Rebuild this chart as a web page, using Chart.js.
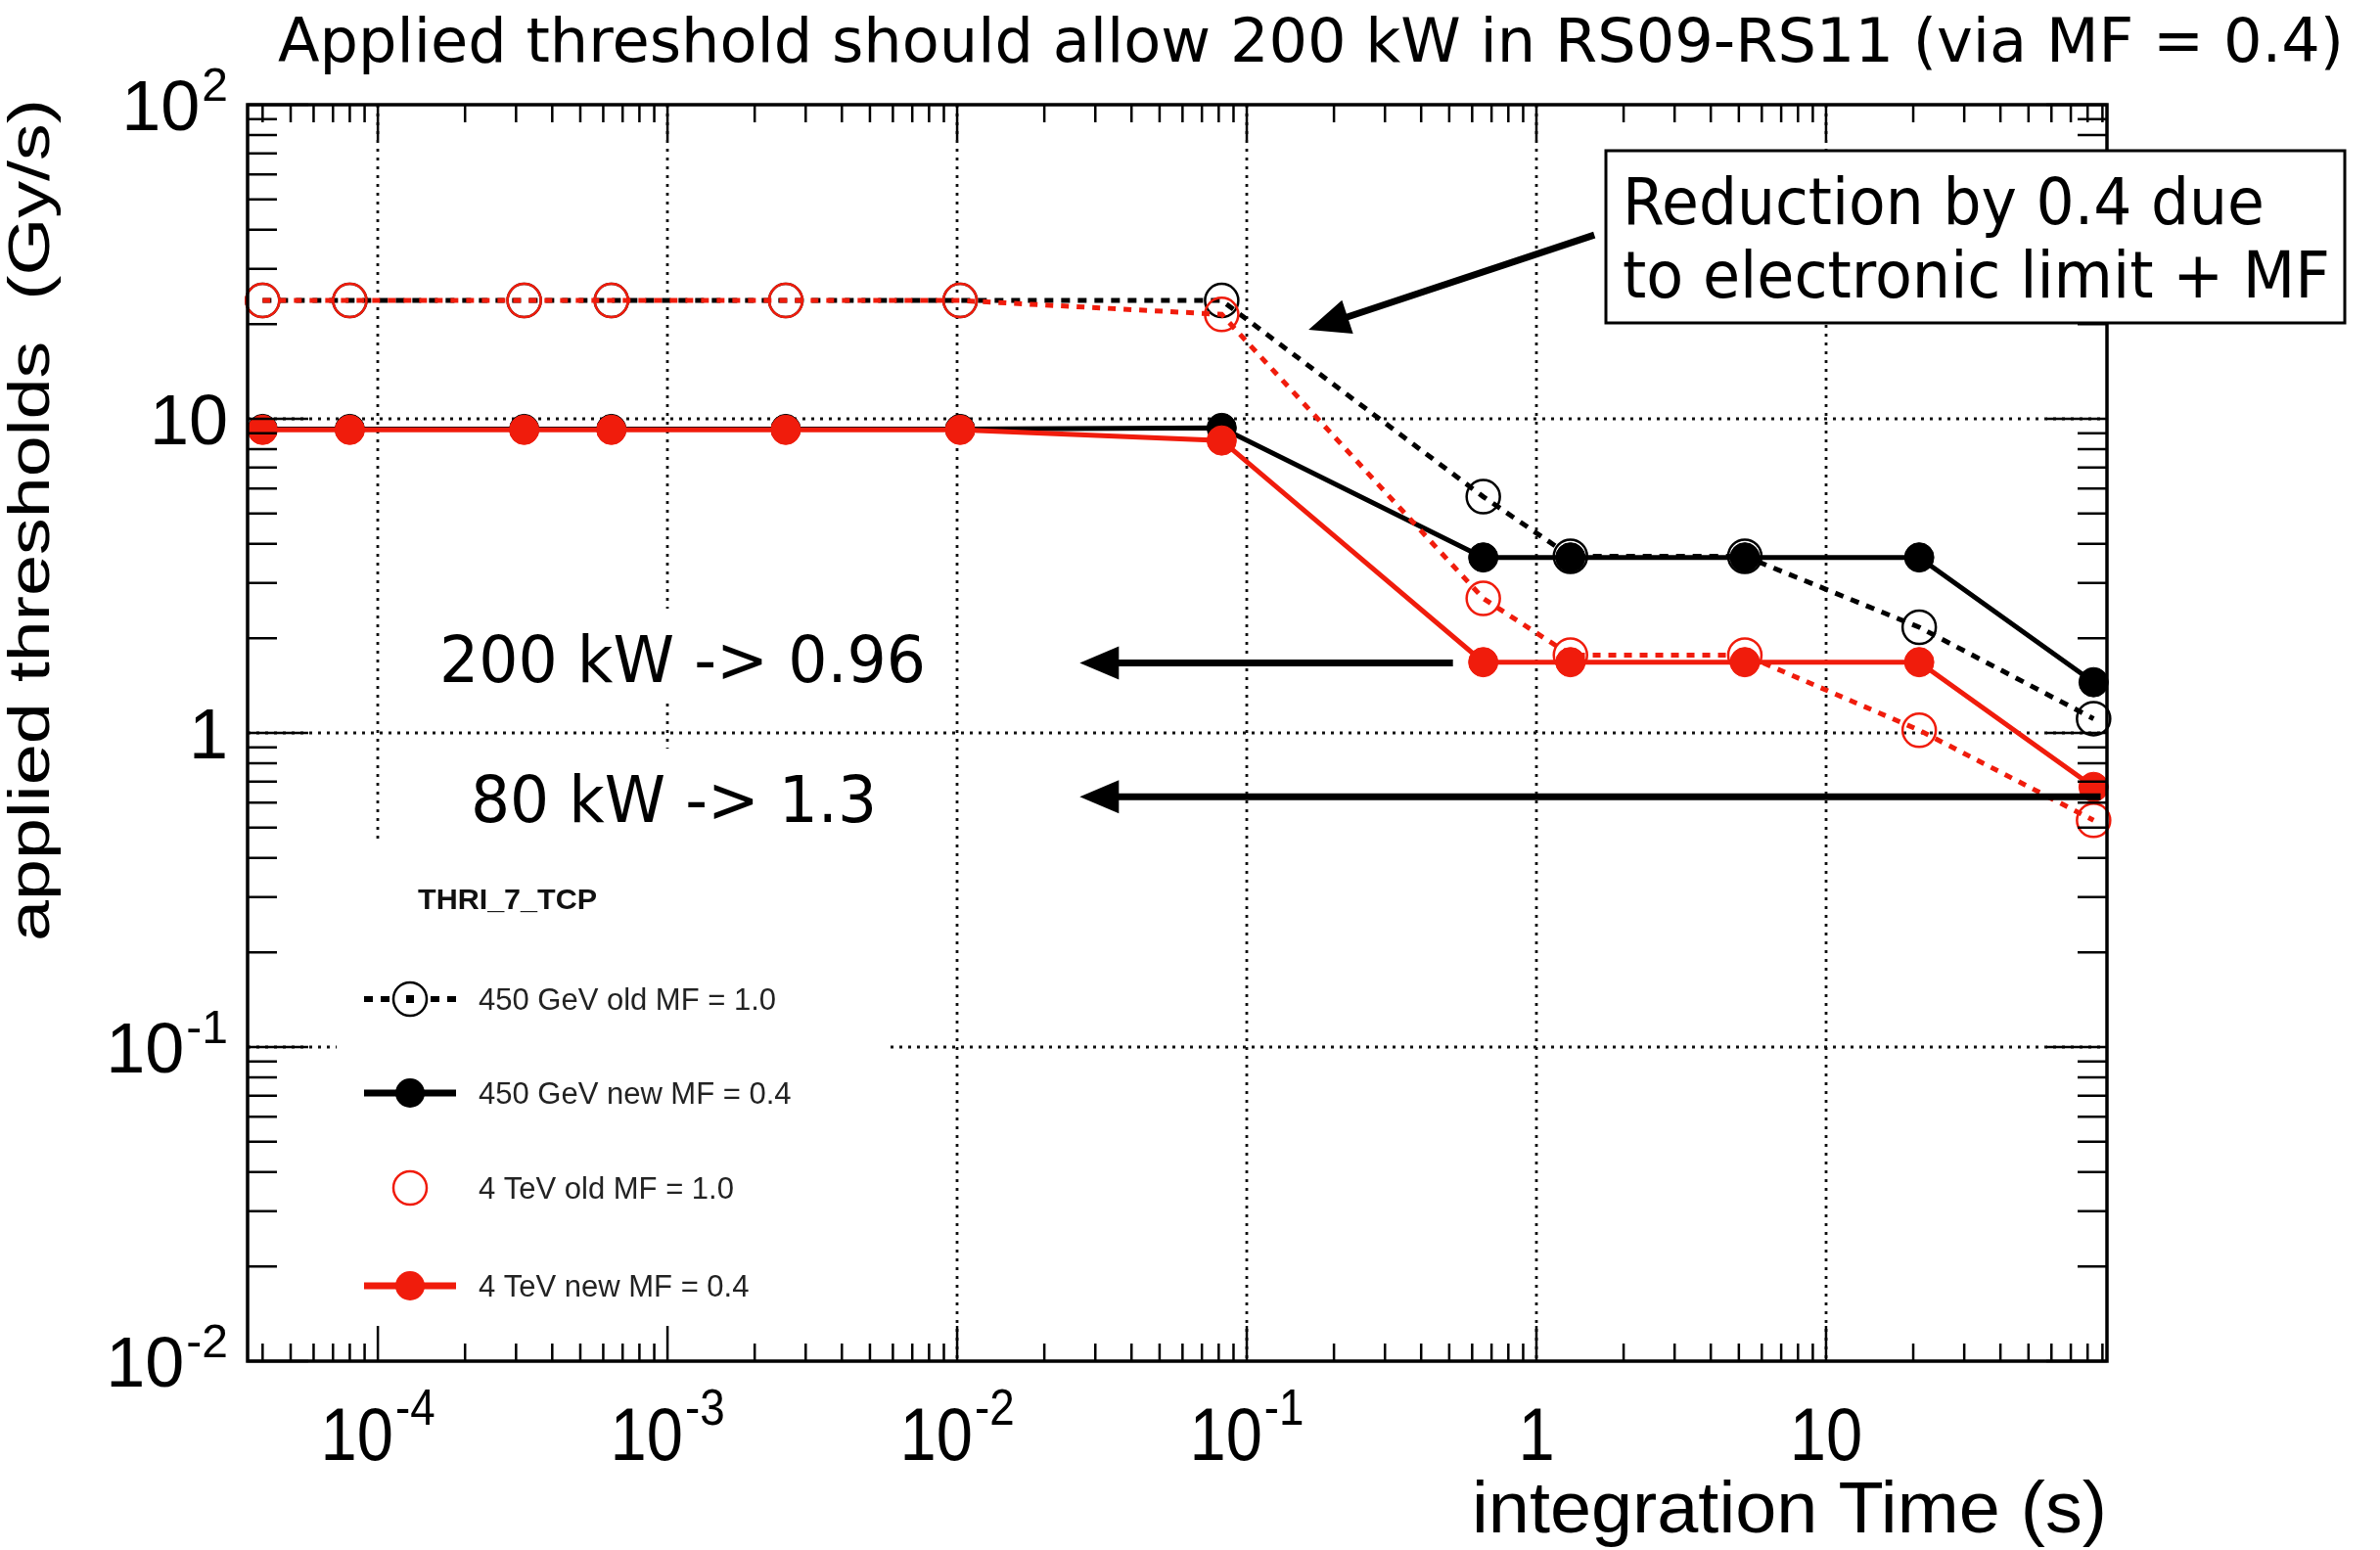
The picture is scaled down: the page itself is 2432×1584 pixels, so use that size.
<!DOCTYPE html>
<html><head><meta charset="utf-8">
<script src="https://cdn.jsdelivr.net/npm/chart.js@4.4.1/dist/chart.umd.min.js"></script>
<style>html,body{margin:0;padding:0;background:#fff;}canvas{display:block;}</style>
</head><body>
<canvas id="c" width="2432" height="1584"></canvas>
<script>
// ---------------- data ----------------
const integrationTimes = [4e-5, 8e-5, 3.2e-4, 6.4e-4, 2.56e-3, 1.024e-2, 8.192e-2, 0.65536, 1.31072, 5.24288, 20.97152, 83.88608];
const gev450Old = [23.8, 23.8, 23.8, 23.8, 23.8, 23.8, 23.8, 5.65, 3.65, 3.65, 2.17, 1.11];
const gev450New = [9.28, 9.28, 9.28, 9.28, 9.28, 9.28, 9.35, 3.62, 3.62, 3.62, 3.62, 1.45];
const tev4Old   = [23.8, 23.8, 23.8, 23.8, 23.8, 23.8, 21.5, 2.68, 1.77, 1.77, 1.02, 0.527];
const tev4New   = [9.22, 9.22, 9.22, 9.22, 9.22, 9.22, 8.53, 1.68, 1.68, 1.68, 1.68, 0.673];
const seriesLabels = ['450 GeV old MF = 1.0', '450 GeV new MF = 0.4', '4 TeV old MF = 1.0', '4 TeV new MF = 0.4'];
const legendTitle = 'THRI_7_TCP';
const xTickValues = [1e-4, 1e-3, 1e-2, 1e-1, 1, 10];
const xTickBases  = ['10', '10', '10', '10', '1', '10'];
const xTickExps   = ['-4', '-3', '-2', '-1', '', ''];
const yTickValues = [100, 10, 1, 0.1, 0.01];
const yTickBases  = ['10', '10', '1', '10', '10'];
const yTickExps   = ['2', '', '', '-1', '-2'];
const xRange = [3.55e-5, 93.3];
const yRange = [0.01, 100];
const titleText = 'Applied threshold should allow 200 kW in RS09-RS11 (via MF = 0.4)';
const xTitle = 'integration Time (s)';
const yTitle = 'applied thresholds  (Gy/s)';
const noteLines = ['Reduction by 0.4 due', 'to electronic limit + MF'];
const note200 = '200 kW -> 0.96';
const note80 = '80 kW -> 1.3';
// arrow anchors in data space [xFrom, yFrom, xTo, yTo]
const arrow200 = [0.515, 1.67, 0.0265, 1.67];
const arrow80 = [88.7, 0.626, 0.0265, 0.626];
const arrowNote = [1.585, 38.5, 0.1634, 19.2];

// ---------------- layout / style ----------------
const W = 2432, H = 1584;
const AREA = {left: 253, top: 107, right: 2153, bottom: 1391};
const RED = 'rgb(240,28,12)';
const BLACK = '#000';
const SANS = '"Liberation Sans", Arial, Helvetica, sans-serif';
const HUM = '"DejaVu Sans", Verdana, sans-serif';

function toPts(ys) { return integrationTimes.map((x, i) => ({x: x, y: ys[i]})); }

function fitText(ctx, text, x, y, width, font, color) {
  ctx.save();
  ctx.font = font;
  ctx.fillStyle = color || '#000';
  ctx.textAlign = 'left';
  ctx.textBaseline = 'alphabetic';
  const w = ctx.measureText(text).width;
  const s = width / w;
  ctx.translate(x, y);
  ctx.scale(s, 1);
  ctx.fillText(text, 0, 0);
  ctx.restore();
}

function drawArrow(ctx, x1, y1, x2, y2, lw, hl, hw) {
  const a = Math.atan2(y2 - y1, x2 - x1);
  const bx = x2 - hl * Math.cos(a), by = y2 - hl * Math.sin(a);
  ctx.save();
  ctx.strokeStyle = '#000'; ctx.fillStyle = '#000';
  ctx.lineWidth = lw; ctx.lineCap = 'butt';
  ctx.beginPath(); ctx.moveTo(x1, y1); ctx.lineTo(bx + 2 * Math.cos(a), by + 2 * Math.sin(a)); ctx.stroke();
  ctx.beginPath();
  ctx.moveTo(x2, y2);
  ctx.lineTo(bx + hw * Math.sin(a), by - hw * Math.cos(a));
  ctx.lineTo(bx - hw * Math.sin(a), by + hw * Math.cos(a));
  ctx.closePath(); ctx.fill();
  ctx.restore();
}

// power-of-ten label; align: 'right' or 'center'
function drawPow(ctx, base, exp, x, baseline, mainPx, supPx, raise, sx, align) {
  ctx.save();
  ctx.fillStyle = '#000';
  ctx.textAlign = 'left';
  ctx.font = mainPx + 'px ' + SANS;
  const wb = ctx.measureText(base).width * sx;
  ctx.font = supPx + 'px ' + SANS;
  const we = exp ? ctx.measureText(exp).width * sx + 2 : 0;
  const total = wb + we;
  let x0 = align === 'right' ? x - total : x - total / 2;
  ctx.font = mainPx + 'px ' + SANS;
  ctx.save(); ctx.translate(x0, baseline); ctx.scale(sx, 1); ctx.fillText(base, 0, 0); ctx.restore();
  if (exp) {
    ctx.font = supPx + 'px ' + SANS;
    ctx.save(); ctx.translate(x0 + wb + 2, baseline - raise); ctx.scale(sx, 1); ctx.fillText(exp, 0, 0); ctx.restore();
  }
  ctx.restore();
}

const rootStyle = {
  id: 'rootStyle',
  beforeDraw(chart) {
    const ctx = chart.ctx;
    ctx.save(); ctx.fillStyle = '#fff'; ctx.fillRect(0, 0, W, H); ctx.restore();
  },
  beforeDatasetsDraw(chart) {
    const ctx = chart.ctx, xs = chart.scales.x, ys = chart.scales.y, ca = chart.chartArea;
    ctx.save();
    ctx.strokeStyle = '#111';
    ctx.lineWidth = 2.8;
    ctx.setLineDash([3, 6]);
    xTickValues.forEach(v => {
      const px = Math.round(xs.getPixelForValue(v));
      ctx.beginPath(); ctx.moveTo(px, ca.top); ctx.lineTo(px, ca.bottom); ctx.stroke();
    });
    yTickValues.forEach(v => {
      if (v <= yRange[0] || v >= yRange[1]) return;
      const py = Math.round(ys.getPixelForValue(v));
      ctx.beginPath(); ctx.moveTo(ca.left, py); ctx.lineTo(ca.right, py); ctx.stroke();
    });
    ctx.setLineDash([]);
    // white panels behind the text blocks and legend
    ctx.fillStyle = '#fff';
    ctx.fillRect(430, 622, 530, 96);
    ctx.fillRect(430, 765, 530, 98);
    ctx.fillRect(344, 863, 561, ca.bottom - 866);
    ctx.restore();
  },
  afterDatasetsDraw(chart) {
    const ctx = chart.ctx, xs = chart.scales.x, ys = chart.scales.y, ca = chart.chartArea;
    ctx.save();
    // ticks
    ctx.strokeStyle = '#000';
    ctx.lineWidth = 2.5;
    for (let d = -6; d <= 2; d++) {
      for (let m = 1; m <= 9; m++) {
        const v = m * Math.pow(10, d);
        if (v >= xRange[0] && v <= xRange[1]) {
          const px = xs.getPixelForValue(v);
          const L = m === 1 ? 36 : 18;
          ctx.beginPath();
          ctx.moveTo(px, ca.bottom); ctx.lineTo(px, ca.bottom - L);
          ctx.moveTo(px, ca.top); ctx.lineTo(px, ca.top + L);
          ctx.stroke();
        }
        if (v >= yRange[0] && v <= yRange[1]) {
          const py = ys.getPixelForValue(v);
          const L = m === 1 ? 62 : 30;
          ctx.beginPath();
          ctx.moveTo(ca.left, py); ctx.lineTo(ca.left + L, py);
          ctx.moveTo(ca.right, py); ctx.lineTo(ca.right - L, py);
          ctx.stroke();
        }
      }
    }
    // frame
    ctx.lineWidth = 3.5;
    ctx.strokeRect(ca.left, ca.top, ca.right - ca.left, ca.bottom - ca.top);

    // tick labels
    xTickValues.forEach((v, i) => {
      const px = xs.getPixelForValue(v);
      drawPow(ctx, xTickBases[i], xTickExps[i], px, 1492, 76, 52, 36, 0.88, 'center');
    });
    yTickValues.forEach((v, i) => {
      const py = ys.getPixelForValue(v);
      drawPow(ctx, yTickBases[i], yTickExps[i], 233, py + 26, 72, 48, 30, 1.0, 'right');
    });

    // axis titles
    fitText(ctx, xTitle, 1504, 1566, 649, '74px ' + SANS);
    ctx.save();
    ctx.translate(50, 962);
    ctx.rotate(-Math.PI / 2);
    fitText(ctx, yTitle, 0, 0, 861, '60px ' + SANS);
    ctx.restore();

    // title
    fitText(ctx, titleText, 284, 63, 2111, '62px ' + HUM);

    // note box
    ctx.fillStyle = '#fff';
    ctx.fillRect(1641, 154, 755, 176);
    ctx.strokeStyle = '#000'; ctx.lineWidth = 3;
    ctx.strokeRect(1641, 154, 755, 176);
    fitText(ctx, noteLines[0], 1658, 229, 656, '66px ' + HUM);
    fitText(ctx, noteLines[1], 1658, 304, 723, '66px ' + HUM);

    // text notes
    fitText(ctx, note200, 449, 697, 497, '66px ' + HUM);
    fitText(ctx, note80, 481, 840, 415, '66px ' + HUM);

    // arrows
    const P = a => [xs.getPixelForValue(a[0]), ys.getPixelForValue(a[1]), xs.getPixelForValue(a[2]), ys.getPixelForValue(a[3])];
    let p = P(arrow200); drawArrow(ctx, p[0], p[1], p[2], p[3], 7, 40, 17);
    p = P(arrow80); drawArrow(ctx, p[0], p[1], p[2], p[3], 7, 40, 17);
    p = P(arrowNote); drawArrow(ctx, p[0], p[1], p[2], p[3], 7, 42, 18);

    // legend
    fitText(ctx, legendTitle, 427, 929, 183, 'bold 30px ' + SANS, '#111');
    ctx.font = '31px ' + SANS;
    const sLeg = 304 / ctx.measureText(seriesLabels[0]).width;
    const rows = [1021, 1117, 1214, 1314];
    const styles = [
      {color: BLACK, dash: [9, 8], line: true, fill: false},
      {color: BLACK, dash: [], line: true, fill: true},
      {color: RED, dash: [], line: false, fill: false},
      {color: RED, dash: [], line: true, fill: true}
    ];
    rows.forEach((y, i) => {
      const st = styles[i];
      ctx.save();
      if (st.line) {
        ctx.strokeStyle = st.color; ctx.lineWidth = st.fill ? 7 : 6;
        ctx.setLineDash(st.dash);
        ctx.beginPath(); ctx.moveTo(372, y); ctx.lineTo(466, y); ctx.stroke();
        ctx.setLineDash([]);
      }
      ctx.beginPath(); ctx.arc(419, y, st.fill ? 15 : 17, 0, Math.PI * 2);
      if (st.fill) { ctx.fillStyle = st.color; ctx.fill(); }
      else {
        if (st.line) { ctx.fillStyle = '#fff'; ctx.fill(); ctx.fillStyle = '#000'; ctx.fillRect(415, y - 4, 8, 8); }
        ctx.strokeStyle = st.color; ctx.lineWidth = 2.5; ctx.stroke();
      }
      ctx.restore();
      ctx.save();
      ctx.font = '31px ' + SANS; ctx.fillStyle = '#222';
      ctx.translate(489, y + 11); ctx.scale(sLeg, 1);
      ctx.fillText(seriesLabels[i], 0, 0);
      ctx.restore();
    });
    ctx.restore();
  }
};

new Chart(document.getElementById('c'), {
  type: 'scatter',
  data: {
    datasets: [
      {label: seriesLabels[3], data: toPts(tev4New), showLine: true, order: 0, clip: false,
       borderColor: RED, borderWidth: 5, pointStyle: 'circle', pointRadius: 15,
       pointBackgroundColor: RED, pointBorderColor: RED, pointBorderWidth: 1},
      {label: seriesLabels[2], data: toPts(tev4Old), showLine: true, order: 1, clip: false,
       borderColor: RED, borderWidth: 5, borderDash: [8, 8], pointStyle: 'circle', pointRadius: 17,
       pointBackgroundColor: 'rgba(0,0,0,0)', pointBorderColor: RED, pointBorderWidth: 2.5},
      {label: seriesLabels[1], data: toPts(gev450New), showLine: true, order: 2, clip: false,
       borderColor: BLACK, borderWidth: 5, pointStyle: 'circle', pointRadius: 15,
       pointBackgroundColor: BLACK, pointBorderColor: BLACK, pointBorderWidth: 1},
      {label: seriesLabels[0], data: toPts(gev450Old), showLine: true, order: 3, clip: false,
       borderColor: BLACK, borderWidth: 5, borderDash: [9, 8], pointStyle: 'circle', pointRadius: 17,
       pointBackgroundColor: 'rgba(0,0,0,0)', pointBorderColor: BLACK, pointBorderWidth: 2.5}
    ]
  },
  options: {
    responsive: false,
    animation: false,
    devicePixelRatio: 1,
    layout: {padding: {left: AREA.left, top: AREA.top, right: W - AREA.right, bottom: H - AREA.bottom}},
    elements: {line: {tension: 0}},
    scales: {
      x: {type: 'logarithmic', min: xRange[0], max: xRange[1], display: false},
      y: {type: 'logarithmic', min: yRange[0], max: yRange[1], display: false}
    },
    plugins: {legend: {display: false}, tooltip: {enabled: false}}
  },
  plugins: [rootStyle]
});
</script>
</body></html>
